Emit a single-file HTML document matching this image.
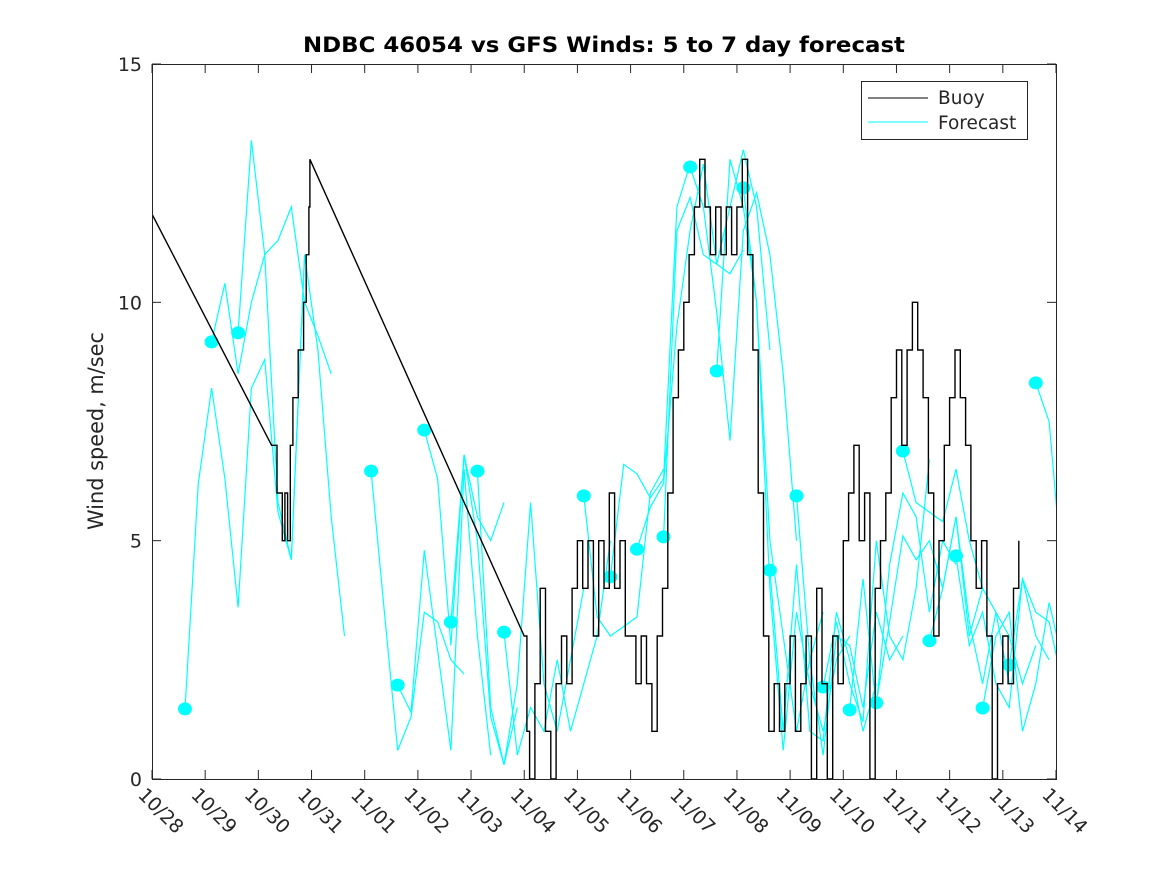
<!DOCTYPE html>
<html><head><meta charset="utf-8"><style>
body{margin:0;background:#fff}
svg{display:block;font-family:"DejaVu Sans","Liberation Sans",sans-serif}
</style></head><body>
<svg id="chart" width="1167" height="875" viewBox="0 0 1167 875" xmlns="http://www.w3.org/2000/svg">
<rect x="0" y="0" width="1167" height="875" fill="#fff"/>
<text x="604" y="52" text-anchor="middle" font-size="21" font-weight="bold" textLength="602" lengthAdjust="spacingAndGlyphs">NDBC 46054 vs GFS Winds: 5 to 7 day forecast</text>
<text transform="translate(103,431) rotate(-90)" text-anchor="middle" font-size="21" fill="#262626" textLength="198" lengthAdjust="spacingAndGlyphs">Wind speed, m/sec</text>
<g id="plot"></g>
<rect x="152.5" y="64.5" width="904" height="715" fill="none" stroke="#262626" stroke-width="1"/>
<g>
<rect x="861.5" y="81.5" width="166" height="58" fill="#fff" stroke="#262626"/>
<line x1="868" y1="98" x2="928" y2="98" stroke="#000"/>
<text x="938" y="104" font-size="18.5" fill="#262626">Buoy</text>
<line x1="868" y1="122" x2="928" y2="122" stroke="#00ffff"/>
<text x="938" y="129" font-size="18.5" fill="#262626">Forecast</text>
</g>
</svg>
<script>
const xTickLabels = ["10/28","10/29","10/30","10/31","11/01","11/02","11/03","11/04","11/05","11/06","11/07","11/08","11/09","11/10","11/11","11/12","11/13","11/14"];
const yTicks = [0,5,10,15];
const buoyTimes = [0,2.25,2.35,2.45,2.5,2.55,2.6,2.65,2.75,2.85,2.9,2.95,2.97,7.0,7.05,7.1,7.2,7.3,7.4,7.5,7.6,7.7,7.8,7.9,8.0,8.1,8.2,8.3,8.4,8.5,8.6,8.7,8.8,8.9,9.0,9.1,9.2,9.3,9.4,9.5,9.6,9.7,9.8,9.9,10.0,10.1,10.2,10.3,10.4,10.5,10.6,10.7,10.8,10.9,11.0,11.1,11.2,11.3,11.4,11.5,11.6,11.7,11.8,11.9,12.0,12.1,12.2,12.3,12.4,12.5,12.6,12.7,12.8,12.9,13.0,13.1,13.2,13.3,13.4,13.5,13.6,13.7,13.8,13.9,14.0,14.1,14.2,14.3,14.4,14.5,14.6,14.7,14.8,14.9,15.0,15.1,15.2,15.3,15.4,15.5,15.6,15.7,15.8,15.9,16.0,16.1,16.2,16.3];
const buoyValues = [11.85,7,6,5,6,5,7,8,9,10,11,12,13,3,1,0,2,4,1,0,2,3,2,4,5,4,5,3,5,4,6,4,5,3,3,2,3,2,1,3,4,6,8,9,10,11,12,13,12,11,12,11,12,11,12,13,11,9,6,3,1,2,1,2,3,1,2,3,0,4,2,0,3,2,5,6,7,5,6,0,4,5,6,8,9,7,9,10,9,8,6,3,5,7,8,9,8,7,5,4,5,3,0,2,3,2,4,5];
const forecastStarts = [0.62,1.12,1.62,4.12,4.62,5.12,5.62,6.12,6.62,8.12,8.62,9.12,9.62,10.12,10.62,11.12,11.62,12.12,12.62,13.12,13.62,14.12,14.62,15.12,15.62,16.12,16.62];
const forecastValues = [
[1.47,6.2,8.2,6.3,3.6,8.2,8.8,5.6,4.6,11.0],
[9.17,10.4,8.5,10.0,11.0,11.3,12.0,10.0,9.3,8.5],
[9.36,13.4,11.0,5.8,4.6,11.0,9.0,5.5,3.0],
[6.46,3.5,0.6,1.3,3.5,3.3,2.5,2.2],
[1.97,1.4,4.8,2.7,0.6,6.5,3.0,0.5],
[7.32,6.3,2.8,6.8,5.0,1.3,0.3,1.5],
[3.29,6.8,5.5,5.0,5.8],
[6.46,1.5,0.3,2.0,5.8,2.0,1.0,2.5,4.0],
[3.08,0.5,1.5,1.0,2.5,1.0,2.0,3.0,5.0],
[5.94,3.4,3.0,3.2,3.4,6.0,6.5],
[4.24,6.6,6.4,5.9,6.3,12.0,12.9],
[4.82,5.7,6.2,9.5,11.5,12.9,10.8,10.6,11.1],
[5.08,11.5,12.2,11.0,10.8,12.0,13.2,12.0,9.0],
[12.84,12.0,9.8,7.1,11.5,12.3,11.0,8.5,5.0],
[8.56,13.0,12.0,10.0,5.0,3.0,1.0,2.5,3.5],
[12.4,10.0,4.0,0.6,3.5,2.0,1.0,2.5,3.0],
[4.38,1.0,4.5,1.0,0.8,3.5,2.5,1.0,2.0],
[5.94,2.5,0.5,3.0,2.8,1.5,3.5,2.5,3.0],
[1.93,3.3,2.0,1.2,5.0,3.0,2.5,4.0,6.7],
[1.45,4.2,1.5,4.5,6.0,5.5,3.5,5.0,4.5],
[1.6,3.3,5.1,4.6,5.0,4.0,5.5,3.0,4.0],
[6.88,5.8,5.6,5.4,6.5,5.0,4.0,3.5,2.0],
[2.9,4.0,5.5,3.3,2.0,3.5,3.0,2.0,2.8],
[4.68,2.8,3.5,2.0,1.5,4.2,3.0,2.5],
[1.49,3.0,3.5,1.0,2.0,3.7,2.5],
[2.39,4.2,3.5,3.3,2.0],
[8.31,7.5,4.3]
];
const forecastStep = 0.25;
const X0=152, X1=1056, Y0=779, Y1=64, DAYS=17, YMAX=15;
const xs = d => X0 + (X1-X0)*d/DAYS;
const ys = v => Y0 - (Y0-Y1)*v/YMAX;
const NS="http://www.w3.org/2000/svg";
const svg=document.getElementById('chart');
const plot=document.getElementById('plot');
function mk(tag,attrs,parent){const e=document.createElementNS(NS,tag);for(const k in attrs)e.setAttribute(k,attrs[k]);(parent||svg).appendChild(e);return e;}
const clip=mk('clipPath',{id:'pc'});mk('rect',{x:X0,y:Y1-8,width:X1-X0,height:Y0-Y1+16},clip);
plot.setAttribute('clip-path','url(#pc)');
xTickLabels.forEach((lab,i)=>{
  const x=xs(i);
  const t1=mk('line',{x1:x,y1:Y0,x2:x,y2:Y0-9,stroke:'#262626'});
  
  
  const t2=mk('line',{x1:x,y1:Y1,x2:x,y2:Y1+9,stroke:'#262626'});
  
  
  const tx=mk('text',{transform:`translate(${x-15},${Y0+17}) rotate(45)`,'font-size':19,fill:'#262626'});
  tx.textContent=lab;
  
  
});
yTicks.forEach(v=>{
  const y=ys(v);
  const a=mk('line',{x1:X0,y1:y,x2:X0+9,y2:y,stroke:'#262626'});
  
  
  const b=mk('line',{x1:X1,y1:y,x2:X1-9,y2:y,stroke:'#262626'});
  
  
  const t=mk('text',{x:X0-10,y:y+7,'text-anchor':'end','font-size':19,fill:'#262626'});
  t.textContent=v;
  
  
});
forecastValues.forEach((vals,k)=>{
  const d0=forecastStarts[k];
  const pts=vals.map((v,i)=>xs(d0+i*forecastStep).toFixed(1)+','+ys(v).toFixed(1)).join(' ');
  const pl=mk('polyline',{points:pts,fill:'none',stroke:'#00ffff','stroke-width':1.2},plot);
  
  
  const c=mk('ellipse',{cx:xs(d0),cy:ys(vals[0]),rx:7,ry:6.5,fill:'#00ffff'},plot);
  
  
});
let p='M'+xs(buoyTimes[0]).toFixed(1)+','+ys(buoyValues[0]).toFixed(1);
for(let i=1;i<buoyTimes.length;i++){
  const x=xs(buoyTimes[i]).toFixed(1), y=ys(buoyValues[i]).toFixed(1);
  if(buoyTimes[i]-buoyTimes[i-1]>0.3) p+=' L'+x+','+y;
  else p+=' H'+x+' V'+y;
}
const bl=mk('path',{d:p,fill:'none',stroke:'#000','stroke-width':1.4},plot);


</script>
</body></html>
